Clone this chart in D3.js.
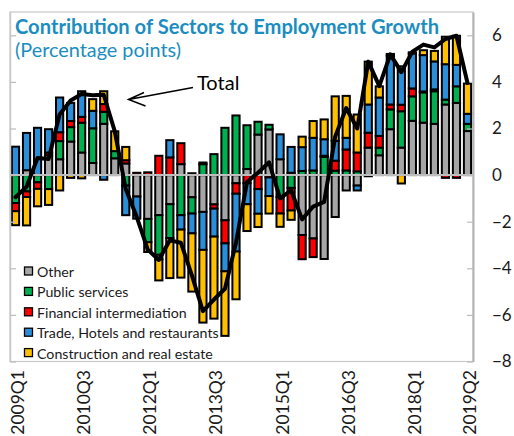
<!DOCTYPE html>
<html>
<head>
<meta charset="utf-8">
<script src="https://cdn.jsdelivr.net/npm/d3@7"></script>
<style>
	body { margin: 0; background: #fff; }
	svg { display: block; font-family: Lato, "Open Sans", sans-serif; }
</style>
</head>
<body>
<div id="chart"></div>
<script>
const quarters = [
	"2009Q1", "2009Q2", "2009Q3", "2009Q4", "2010Q1", "2010Q2", "2010Q3", "2010Q4",
	"2011Q1", "2011Q2", "2011Q3", "2011Q4", "2012Q1", "2012Q2", "2012Q3", "2012Q4",
	"2013Q1", "2013Q2", "2013Q3", "2013Q4", "2014Q1", "2014Q2", "2014Q3", "2014Q4",
	"2015Q1", "2015Q2", "2015Q3", "2015Q4", "2016Q1", "2016Q2", "2016Q3", "2016Q4",
	"2017Q1", "2017Q2", "2017Q3", "2017Q4", "2018Q1", "2018Q2", "2018Q3", "2018Q4",
	"2019Q1", "2019Q2"
];
const tickLabels = ["2009Q1", "2010Q3", "2012Q1", "2013Q3", "2015Q1", "2016Q3", "2018Q1", "2019Q2"];
const yTicks = [-8, -6, -4, -2, 0, 2, 4, 6];

// contributions, percentage points
const other = [0, 0.21, 0, 0.85, 0.68, 1.44, 0.97, 0.52, 2.2, 0.72, 0.5, -0.92, -1.88, -1.72, -1.25, 0.47, -0.95, -1.58, -1.26, -1.94, -0.35, 0.26, 1.74, 1.96, 0.68, 0.1, -2.57, -2.72, -3.6, -1.8, -0.66, -0.45, 1.18, 0.85, 1.97, 1.18, 2.33, 2.25, 2.2, 3.03, 3.1, 1.89];
const publicServices = [-1.2, -0.7, -0.31, -0.6, 0.78, 0.62, 1.28, 1.49, 0.52, 0.31, -0.45, 0, -1.0, -1.7, -1.45, -1.72, -0.7, 0.47, 0.9, 2.03, 2.56, 1.88, 0.55, 0.2, -0.95, -0.55, 0.18, 0.2, 0.78, 0.19, 0.2, 0.16, -0.05, 0.33, 0.85, 1.56, 1.05, 1.3, 1.4, 0.21, 0.71, 0.31];
const financial = [-0.35, -0.24, -0.28, 0.12, 0.38, 0.26, 0.25, 0, 0.33, 0, 0.14, 0.1, 0.12, 0.83, 0.76, 0.9, 0.08, 0.07, -0.18, -0.99, -0.45, -0.35, -0.6, -0.1, -0.7, -0.97, -1.04, -0.8, 0.05, 0.43, 0.9, 0.81, 0.64, 0.5, 0.21, 0.28, 0.34, 0.04, 0.08, -0.12, -0.12, 0];
const trade = [1.22, 1.6, 2.03, 1.0, 1.49, 0.78, 1.1, 0.75, -0.2, 0, -1.27, -0.95, 0, -0.2, 0.74, -0.62, -0.85, -1.63, -1.2, -1.2, -2.48, -0.9, -1.06, -0.8, 1.07, 1.11, 1.02, 1.4, 0.71, 0.85, 0.5, -0.21, 1.21, 1.65, 2.1, 1.65, 1.5, 1.56, 1.2, 1.52, 0.92, 0.43];
const construction = [-0.6, -1.22, -0.75, -0.68, -0.66, -0.12, -0.14, 0.5, 0.55, 0.85, 0.57, 0, -0.42, -0.9, -1.72, -2.06, -2.5, -3.12, -3.52, -2.77, -2.05, -1.15, -0.57, -0.75, -0.57, -0.4, 0.45, 0.72, 0.85, 1.91, 1.8, 1.63, 1.84, 0.48, 0.07, -0.36, 0.05, 0.21, 0.45, 1.18, 1.25, 1.3];
const total = [-0.95, -0.5, 0.73, 0.69, 2.6, 3.2, 3.48, 3.43, 3.45, 1.89, -0.6, -1.8, -3.2, -3.64, -2.8, -2.9, -4.3, -5.84, -5.34, -4.88, -2.9, -0.3, 0.1, 0.55, -1.0, -0.65, -1.9, -1.35, -1.15, 1.65, 2.88, 2.0, 4.87, 3.82, 5.18, 4.42, 5.3, 5.6, 5.48, 5.84, 5.98, 3.95];

const seriesKeys = ["other", "publicServices", "financial", "trade", "construction"];
const seriesNames = ["Other", "Public services", "Financial intermediation", "Trade, Hotels and restaurants", "Construction and real estate"];
const seriesColors = ["#a6a6a6", "#00b050", "#ff0000", "#2a8ed8", "#ffc000"];

const width = 514;
const height = 436;
const plotLeft = 10;
const plotRight = 473;
const plotTop = 12;
const plotBottom = 361.5;

const rows = quarters.map((q, i) => ({
	quarter: q,
	other: other[i],
	publicServices: publicServices[i],
	financial: financial[i],
	trade: trade[i],
	construction: construction[i],
	total: total[i]
}));

const svg = d3.select("#chart").append("svg").attr("width", width).attr("height", height);

const x = d3.scaleBand().domain(quarters).range([plotLeft, plotRight]).padding(0);
const y = d3.scaleLinear().domain([-8, 7]).range([plotBottom, plotTop]);
const barW = 7.2;

// frame
svg.append("rect")
	.attr("x", plotLeft)
	.attr("y", plotTop)
	.attr("width", plotRight - plotLeft)
	.attr("height", plotBottom - plotTop)
	.attr("fill", "none")
	.attr("stroke", "#c9c9c9")
	.attr("stroke-width", 1.2);

const stack = d3.stack().keys(seriesKeys).offset(d3.stackOffsetDiverging);
const layers = svg.append("g")
	.selectAll("g")
	.data(stack(rows))
	.join("g")
	.attr("fill", (_d, i) => seriesColors[i]);

layers.selectAll("rect")
	.data((d) => d.filter((s) => s[1] !== s[0]))
	.join("rect")
	.attr("x", (d) => x(d.data.quarter) + (x.bandwidth() - barW) / 2)
	.attr("y", (d) => y(d[1]))
	.attr("width", barW)
	.attr("height", (d) => y(d[0]) - y(d[1]))
	.attr("stroke", "#000")
	.attr("stroke-width", 2);

// zero line
svg.append("line")
	.attr("x1", plotLeft)
	.attr("x2", plotRight)
	.attr("y1", y(0))
	.attr("y2", y(0))
	.attr("stroke", "#bdbdbd")
	.attr("stroke-width", 2);

// left axis, ticks only
const leftAxis = svg.append("g")
	.attr("transform", `translate(${plotLeft},0)`)
	.call(d3.axisLeft(y).tickValues(yTicks).tickSizeInner(-6).tickSizeOuter(0).tickFormat(""));
leftAxis.select(".domain").attr("stroke", "#c9c9c9").attr("stroke-width", 1.5);
leftAxis.selectAll(".tick line").attr("stroke", "#bdbdbd").attr("stroke-width", 1.2);

// right axis with labels
const rightAxis = svg.append("g")
	.attr("transform", `translate(${plotRight},0)`)
	.call(d3.axisRight(y).tickValues(yTicks).tickSizeInner(-6).tickSizeOuter(0).tickPadding(19));
rightAxis.select(".domain").attr("stroke", "#b3b3b3").attr("stroke-width", 2);
rightAxis.selectAll(".tick line").attr("stroke", "#bdbdbd").attr("stroke-width", 1.2);
rightAxis.selectAll(".tick text")
	.attr("font-family", "Lato, sans-serif")
	.attr("font-size", 17)
	.attr("fill", "#1a1a1a");

// total line
svg.append("path")
	.datum(rows)
	.attr("fill", "none")
	.attr("stroke", "#000")
	.attr("stroke-width", 4)
	.attr("stroke-linejoin", "round")
	.attr("stroke-linecap", "round")
	.attr("d", d3.line().x((d) => x(d.quarter) + x.bandwidth() / 2).y((d) => y(d.total)));

// category labels
svg.append("g")
	.selectAll("text")
	.data(tickLabels)
	.join("text")
	.attr("transform", (d) => `translate(${x(d) + x.bandwidth() / 2 + 2},370) rotate(-90)`)
	.attr("text-anchor", "end")
	.attr("dominant-baseline", "central")
	.attr("font-size", 17.5)
	.attr("fill", "#1a1a1a")
	.text((d) => d);

// legend
const legend = svg.append("g")
	.selectAll("g")
	.data(seriesNames)
	.join("g")
	.attr("transform", (_d, i) => `translate(24.5,${271 + i * 20.4})`);
legend.append("rect")
	.attr("x", 0)
	.attr("y", -4)
	.attr("width", 8)
	.attr("height", 8)
	.attr("fill", (_d, i) => seriesColors[i])
	.attr("stroke", "#000")
	.attr("stroke-width", 1.3);
legend.append("text")
	.attr("x", 12.5)
	.attr("y", 0.5)
	.attr("dominant-baseline", "central")
	.attr("font-size", 14.2)
	.attr("fill", "#1a1a1a")
	.text((d) => d);

// titles
svg.append("text")
	.attr("x", 15)
	.attr("y", 34)
	.attr("font-size", 20)
	.attr("font-weight", "bold")
	.attr("fill", "#1b8dc0")
	.attr("textLength", 424)
	.attr("lengthAdjust", "spacingAndGlyphs")
	.text("Contribution of Sectors to Employment Growth");
svg.append("text")
	.attr("x", 15)
	.attr("y", 57)
	.attr("font-size", 19)
	.attr("fill", "#1b8dc0")
	.attr("textLength", 166)
	.attr("lengthAdjust", "spacingAndGlyphs")
	.text("(Percentage points)");

// "Total" annotation with arrow
svg.append("text")
	.attr("x", 197)
	.attr("y", 90)
	.attr("font-size", 20)
	.attr("fill", "#000")
	.text("Total");
svg.append("path")
	.attr("d", "M193,87.5 L128.5,99.5 M144,92.5 L128.5,99.5 L145.5,106")
	.attr("fill", "none")
	.attr("stroke", "#000")
	.attr("stroke-width", 1.5);
</script>
</body>
</html>
